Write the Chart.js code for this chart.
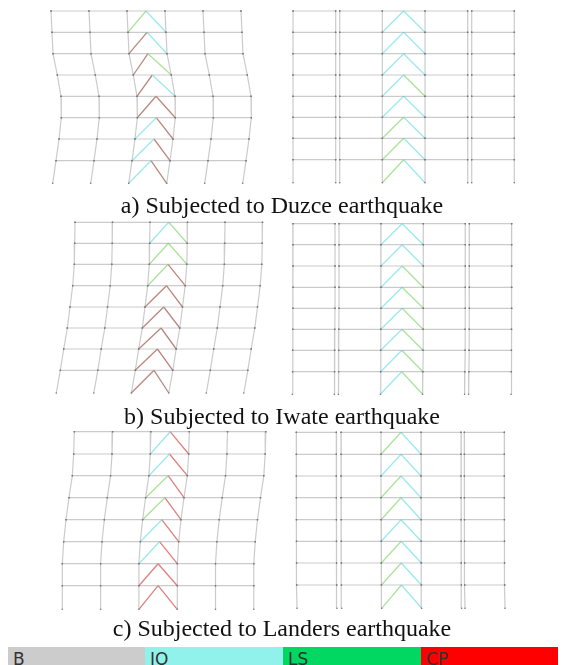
<!DOCTYPE html>
<html>
<head>
<meta charset="utf-8">
<title>Hinge patterns</title>
<script src="https://cdn.jsdelivr.net/npm/chart.js@4/dist/chart.umd.js"></script>
<style>
    html, body { margin: 0; padding: 0; background: #fff; overflow: hidden; }
    #wrap { position: relative; width: 564px; height: 665px; overflow: hidden; }
    #frames { position: absolute; left: 0; top: 0; filter: blur(0.5px); }
    .caption {
        position: absolute; left: 0; width: 564px; text-align: center;
        font-family: "Liberation Serif", serif; font-size: 24px; color: #111; white-space: nowrap;
    }
    .legend { position: absolute; top: 647px; height: 18px; overflow: hidden; font-family: "DejaVu Sans", sans-serif; font-size: 17px; line-height: 24px; color: #333; text-indent: 5px; }
</style>
</head>
<body>
<div id="wrap">
    <canvas id="frames" width="564" height="665"></canvas>
    <div class="caption" style="top:192px">a) Subjected to Duzce earthquake</div>
    <div class="caption" style="top:403px">b) Subjected to Iwate earthquake</div>
    <div class="caption" style="top:615px">c) Subjected to Landers earthquake</div>
    <div class="legend" style="left:8px; width:137px; background:#cccccc">B</div>
    <div class="legend" style="left:145px; width:138px; background:#90f2ea">IO</div>
    <div class="legend" style="left:283px; width:138px; background:#00d862">LS</div>
    <div class="legend" style="left:421px; width:137px; background:#ff0000">CP</div>
</div>
<script>
// a) Duzce
const duzceBays = [0, 38, 76, 114, 152, 190];
const duzceLevels = [11, 32.3, 53.7, 75, 96.3, 117.7, 139, 160.7, 183.3];
const duzceDrift = [51, 52, 53, 57.3, 61, 61.3, 59, 56, 52.7];
const duzceBraces = ['LS IO', 'CPd IO', 'CPd LS', 'CPd IO', 'CPd CPd', 'IO CPd', 'IO CPd', 'IO CPd'];
const duzceBaysLinear = [0, 42.7, 46.7, 89.3, 132, 174.7, 178.7, 221.3];
const duzceLevelsLinear = [11, 32.3, 53.7, 75, 96.3, 117.3, 138.3, 159.7, 182.7];
const duzceDriftLinear = [293, 293, 293, 293, 293, 293, 293, 293, 293];
const duzceBracesLinear = ['IO IO', 'IO IO', 'IO IO', 'IO LS', 'IO IO', 'LS IO', 'LS IO', 'LS IO'];

// b) Iwate
const iwateBays = [0, 37.5, 75, 112.5, 150, 187.5];
const iwateLevels = [222.3, 243.3, 264.3, 285.7, 307, 328, 349, 370.3, 393];
const iwateDrift = [75, 74.7, 74.3, 72.7, 70, 67.3, 63.7, 60.3, 56.3];
const iwateBraces = ['IO LS', 'LS LS', 'LS CPd', 'CPd CPd', 'CPd CPd', 'CPd CPd', 'CPd CPd', 'CPd CPd'];
const iwateBaysLinear = [0, 42, 46, 88, 130.3, 172.3, 176.3, 218.7];
const iwateLevelsLinear = [223.7, 244.7, 266, 287.3, 308.3, 329.3, 350.3, 371.7, 394.3];
const iwateDriftLinear = [293, 293, 293, 293, 293, 292.8, 292.7, 292.6, 292.3];
const iwateBracesLinear = ['IO IO', 'IO IO', 'IO LS', 'IO LS', 'IO LS', 'IO LS', 'IO LS', 'IO LS'];

// c) Landers
const landersBays = [0, 38.3, 76.6, 115, 153.2, 191.5];
const landersLevels = [431.7, 454, 475.7, 497.7, 519.7, 541.7, 563.7, 585.7, 609.3];
const landersDrift = [74.3, 73.7, 72.3, 69, 66, 63.7, 62.3, 62.3, 62.3];
const landersBraces = ['IO CP', 'IO CP', 'LS CP', 'LS CP', 'IO CP', 'IO CP', 'CP CP', 'CP CP'];
const landersBaysLinear = [0, 40, 44.7, 84.7, 124.7, 164.7, 168, 208];
const landersLevelsLinear = [432.3, 454.3, 476, 497.7, 519.7, 541.3, 563, 585, 608.3];
const landersDriftLinear = [296.3, 296.3, 296.3, 296.3, 296.4, 296.5, 296.6, 296.7, 297];
const landersBracesLinear = ['LS IO', 'IO IO', 'LS IO', 'LS IO', 'IO IO', 'LS IO', 'LS IO', 'LS IO'];

const stateColors = {
    IO: 'rgba(150, 232, 236, 0.95)',
    LS: 'rgba(165, 226, 150, 0.95)',
    CPd: 'rgba(182, 130, 120, 0.95)',
    CP: 'rgba(222, 120, 120, 0.95)'
};

const frames = [
    { levels: duzceLevels, drift: duzceDrift, bays: duzceBays, braces: duzceBraces, braceCol: 2 },
    { levels: duzceLevelsLinear, drift: duzceDriftLinear, bays: duzceBaysLinear, braces: duzceBracesLinear, braceCol: 3 },
    { levels: iwateLevels, drift: iwateDrift, bays: iwateBays, braces: iwateBraces, braceCol: 2 },
    { levels: iwateLevelsLinear, drift: iwateDriftLinear, bays: iwateBaysLinear, braces: iwateBracesLinear, braceCol: 3 },
    { levels: landersLevels, drift: landersDrift, bays: landersBays, braces: landersBraces, braceCol: 2 },
    { levels: landersLevelsLinear, drift: landersDriftLinear, bays: landersBaysLinear, braces: landersBracesLinear, braceCol: 3 }
];

// members that share a colour go in one dataset, a NaN point breaks the line
const gap = { x: NaN, y: NaN };
const members = [];
const braces = { IO: [], LS: [], CPd: [], CP: [] };

frames.forEach(function(frame) {
    frame.bays.forEach(function(bay) {
        frame.levels.forEach(function(y, i) {
            members.push({ x: frame.drift[i] + bay, y: y });
        });
        members.push(gap);
    });

    frame.levels.forEach(function(y, i) {
        if (i === frame.levels.length - 1) return; // no beam at the base
        frame.bays.forEach(function(bay, c) {
            if (c > 0 && bay - frame.bays[c - 1] < 10) members.push(gap); // gap between twin columns
            members.push({ x: frame.drift[i] + bay, y: y });
        });
        members.push(gap);
    });

    frame.braces.forEach(function(story, i) {
        const states = story.split(' ');
        const left = frame.bays[frame.braceCol];
        const right = frame.bays[frame.braceCol + 1];
        const apex = { x: frame.drift[i] + (left + right) / 2, y: frame.levels[i] };
        const lowY = frame.levels[i + 1];
        braces[states[0]].push({ x: frame.drift[i + 1] + left, y: lowY }, apex, gap);
        braces[states[1]].push(apex, { x: frame.drift[i + 1] + right, y: lowY }, gap);
    });
});

const datasets = [{
    data: members,
    borderColor: 'rgba(160, 160, 160, 0.55)',
    borderWidth: 1.2,
    pointRadius: 0.8,
    pointBackgroundColor: '#777',
    pointBorderWidth: 0,
    showLine: true,
    spanGaps: false
}];

Object.keys(braces).forEach(function(state) {
    datasets.push({
        data: braces[state],
        borderColor: stateColors[state],
        borderWidth: 1.3,
        pointRadius: 0,
        showLine: true,
        spanGaps: false
    });
});

new Chart(document.getElementById('frames').getContext('2d'), {
    type: 'scatter',
    data: { datasets: datasets },
    options: {
        responsive: false,
        animation: false,
        layout: { padding: 0, autoPadding: false },
        plugins: { legend: { display: false }, tooltip: { enabled: false } },
        scales: {
            x: { type: 'linear', display: false, min: 0, max: 564 },
            y: { type: 'linear', display: false, min: 0, max: 665, reverse: true }
        }
    }
});
</script>
</body>
</html>
